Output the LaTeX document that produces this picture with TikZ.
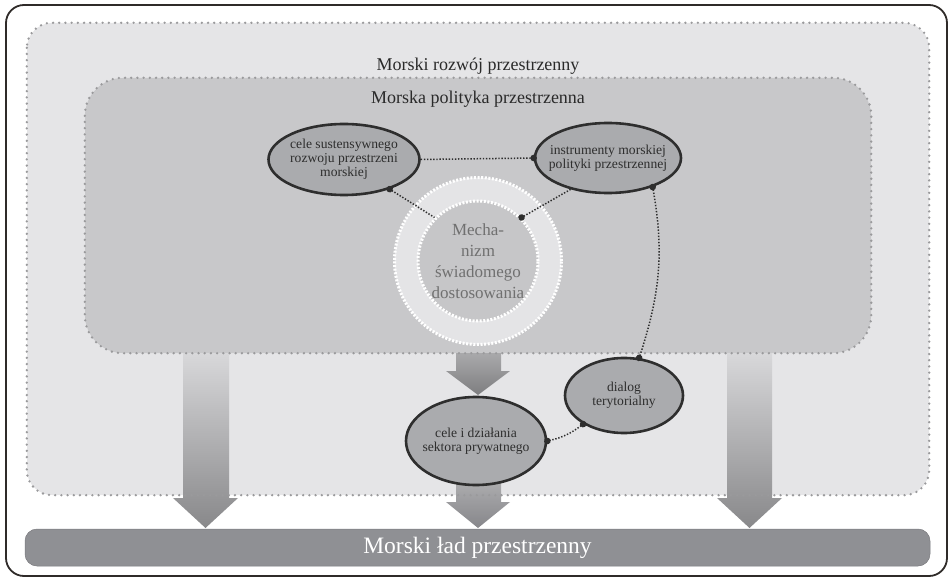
\documentclass[tikz,border=0pt]{standalone}
\usepackage{fontspec}
\setmainfont{Liberation Serif}
\usetikzlibrary{arrows.meta,shapes.geometric,calc}

\definecolor{framecol}{HTML}{2F2B29}
\definecolor{outerfill}{HTML}{E5E5E7}
\definecolor{innerfill}{HTML}{C8C8CA}
\definecolor{dotcol}{HTML}{9A9A9C}
\definecolor{ellfill}{HTML}{AAABAE}
\definecolor{ellline}{HTML}{2E2E2E}
\definecolor{ringfill}{HTML}{E4E4E6}
\definecolor{corefill}{HTML}{C6C6C8}
\definecolor{barfill}{HTML}{8F9094}
\definecolor{mechtext}{HTML}{707070}
\definecolor{titletext}{HTML}{2A2A2A}
\definecolor{arrowdark}{HTML}{88888A}
\definecolor{arrowlight}{HTML}{D8D8DA}
\definecolor{midtop}{HTML}{A9A9AB}
\definecolor{midbottom}{HTML}{7E7E80}
\definecolor{lowtop}{HTML}{AEAEB0}
\definecolor{lowbottom}{HTML}{86868A}

\tikzset{
  zone/.style={inner sep=0pt, fill=#1},
  zoneborder/.style={draw=dotcol, line width=2.6pt, line cap=round,
    dash pattern=on 0pt off 6.2pt},
  % ellipse sized by minimum width/height only; negative xsep keeps the
  % text from widening the outline
  topic/.style={ellipse, draw=ellline, line width=2.6pt, fill=ellfill,
    inner xsep=-22pt, inner ysep=0pt, align=center, text=ellline,
    font=\fontsize{13.6}{14}\selectfont},
  ringbox/.style={circle, inner sep=0pt, draw=white, line width=3pt,
    dash pattern=on 2pt off 1.6pt},
  link/.style={draw=ellline, line width=1.5pt, dash pattern=on 1.4pt off 1.7pt},
  dotend/.style={-{Circle[length=6.5pt]}, shorten >=-3.2pt},
  dotstart/.style={{Circle[length=6.5pt]}-, shorten <=-3.2pt},
  dotboth/.style={{Circle[length=6.5pt]}-{Circle[length=6.5pt]},
    shorten <=-3.2pt, shorten >=-3.2pt},
  tallarrow/.style={top color=arrowlight, bottom color=arrowdark},
}

\begin{document}
\begin{tikzpicture}[x=1pt,y=-1pt]
\useasboundingbox (0,0) rectangle (950,577);

% outer frame
\draw[framecol, line width=1.8pt, rounded corners=18pt] (6,5) rectangle (947,576);

% shaded zones
\node[zone=outerfill, minimum width=902pt, minimum height=472pt,
      rounded corners=25pt] (dev) at (478,259) {};
\node[zone=innerfill, minimum width=786pt, minimum height=275pt,
      rounded corners=38pt] (pol) at (478,215.5) {};

% bottom bar
\node[fill=barfill, draw=barfill!85!black, line width=0.5pt,
      rounded corners=12pt, minimum width=905pt, minimum height=37pt,
      text=white, font=\fontsize{23.5}{25}\selectfont] (order) at (477.5,547.5)
      {Morski ład przestrzenny};

% block arrows
\shade[tallarrow] (183,353) -- (229,353) -- (229,498) -- (238,498)
  -- (205.5,528) -- (173,498) -- (183,498) -- cycle;
\shade[tallarrow] (727,353) -- (772,353) -- (772,498) -- (782,498)
  -- (749.5,528) -- (717,498) -- (727,498) -- cycle;
\shade[top color=midtop, bottom color=midbottom] (456,353) -- (501,353)
  -- (501,371) -- (510,371) -- (478,395) -- (446,371) -- (456,371) -- cycle;
\shade[top color=lowtop, bottom color=lowbottom] (456,480) -- (501,480)
  -- (501,502) -- (510,502) -- (478,528) -- (446,502) -- (456,502) -- cycle;

% dotted zone outlines
\draw[zoneborder, rounded corners=25pt] (dev.north west) rectangle (dev.south east);
\draw[zoneborder, rounded corners=38pt] (pol.north west) rectangle (pol.south east);

% titles
\node[text=titletext, font=\fontsize{18}{20}\selectfont] (devtitle)
  at (478,66) {Morski rozwój przestrzenny};
\node[text=titletext, font=\fontsize{18}{20}\selectfont] (poltitle)
  at (478,99) {Morska polityka przestrzenna};

% adjustment mechanism
\node[ringbox, fill=ringfill, minimum size=167pt] (ring) at (478,261) {};
\node[ringbox, fill=corefill, minimum size=120pt, align=center,
      text=mechtext, font=\fontsize{17}{21}\selectfont] (mech) at (478,261)
  {Mecha-\\nizm\\świadomego\\dostosowania};

% topics
\node[topic, minimum width=151pt, minimum height=71pt] (goals) at (344,159.5)
  {cele sustensywnego\\rozwoju przestrzeni\\morskiej};
\node[topic, minimum width=146pt, minimum height=70pt] (tools) at (608,158)
  {instrumenty morskiej\\polityki przestrzennej};
\node[topic, minimum width=140pt, minimum height=88pt] (private) at (476,441)
  {cele i działania\\sektora prywatnego};
\node[topic, minimum width=118pt, minimum height=75pt] (dialog) at (624,395.5)
  {dialog\\terytorialny};

% dotted links
\draw[link, dotend] (goals.east) -- (tools.west);
\draw[link, dotstart] (goals.-33) -- (mech.135);
\draw[link, dotend] (tools.-140) -- (mech.45);
\draw[link, dotboth] (tools.-33) to[out=-80, in=72] (dialog.68);
\draw[link, dotboth] (dialog.-145) to[bend left=12] (private.east);
\end{tikzpicture}
\end{document}
